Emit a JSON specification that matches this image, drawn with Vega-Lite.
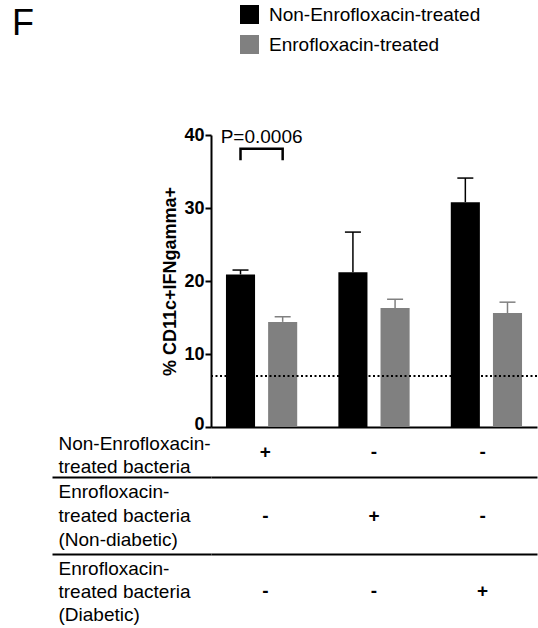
{
  "$schema": "https://vega.github.io/schema/vega-lite/v6.json",
  "padding": {"left": 12, "top": 5, "right": 0, "bottom": 0},
  "background": "white",
  "bounds": "flush",
  "spacing": 0,
  "title": {"text": "F", "anchor": "start", "frame": "group", "fontSize": 36, "fontWeight": "normal", "font": "Liberation Sans", "color": "black", "dx": -199, "dy": 42},
  "config": {
    "font": "Liberation Sans",
    "view": {"stroke": null},
    "tick": {"opacity": 1},
    "axis": {"labelColor": "black", "titleColor": "black", "domainColor": "black", "tickColor": "black", "labelFont": "Liberation Sans", "titleFont": "Liberation Sans"}
  },
  "vconcat": [
    {
      "width": 326,
      "height": 292,
      "data": {"values": [
        {"group": "G1", "treat": "Non-Enrofloxacin-treated", "mean": 20.9, "upper": 21.5},
        {"group": "G1", "treat": "Enrofloxacin-treated", "mean": 14.4, "upper": 15.1},
        {"group": "G2", "treat": "Non-Enrofloxacin-treated", "mean": 21.2, "upper": 26.7},
        {"group": "G2", "treat": "Enrofloxacin-treated", "mean": 16.3, "upper": 17.5},
        {"group": "G3", "treat": "Non-Enrofloxacin-treated", "mean": 30.8, "upper": 34.1},
        {"group": "G3", "treat": "Enrofloxacin-treated", "mean": 15.6, "upper": 17.1}
      ]},
      "encoding": {
        "x": {"field": "group", "type": "nominal", "scale": {"paddingInner": 0.1, "paddingOuter": 0}, "axis": {"title": null, "labels": false, "ticks": false, "domain": true, "domainWidth": 2}},
        "xOffset": {"field": "treat", "type": "nominal", "sort": ["Non-Enrofloxacin-treated", "Enrofloxacin-treated"], "scale": {"paddingInner": 0.31, "paddingOuter": 0.355}}
      },
      "layer": [
        {
          "mark": {"type": "bar"},
          "encoding": {
            "y": {"field": "mean", "type": "quantitative", "scale": {"domain": [0, 40]}, "axis": {"title": "% CD11c+IFNgamma+", "values": [0, 10, 20, 30, 40], "grid": false, "domainWidth": 2, "tickWidth": 2, "tickSize": 6, "labelFontSize": 18, "labelFontWeight": "bold", "labelPadding": 1, "labelOffset": {"condition": {"test": "datum.value === 0", "value": -3}, "value": 0}, "titleFontSize": 18, "titleFontWeight": "bold", "titlePadding": 4, "labelFlush": false}},
            "color": {"field": "treat", "type": "nominal", "sort": ["Non-Enrofloxacin-treated", "Enrofloxacin-treated"], "scale": {"domain": ["Non-Enrofloxacin-treated", "Enrofloxacin-treated"], "range": ["#000000", "#808080"]}, "legend": {"orient": "none", "legendX": 29, "legendY": -130, "title": null, "symbolType": "square", "symbolSize": 361, "symbolStrokeWidth": 0, "symbolOpacity": 1, "labelFontSize": 19, "labelColor": "black", "labelLimit": 400, "rowPadding": 10, "labelOffset": 10}}
          }
        },
        {
          "mark": {"type": "rule", "strokeWidth": 1.5},
          "encoding": {
            "y": {"field": "mean", "type": "quantitative"},
            "y2": {"field": "upper"},
            "color": {"field": "treat", "type": "nominal"}
          }
        },
        {
          "mark": {"type": "tick", "size": 16, "thickness": 1.5, "opacity": 1},
          "encoding": {
            "y": {"field": "upper", "type": "quantitative"},
            "color": {"field": "treat", "type": "nominal"}
          }
        },
        {
          "data": {"values": [{"baseline": 7}]},
          "mark": {"type": "rule", "strokeDash": [2, 2.5], "strokeWidth": 2, "color": "black"},
          "encoding": {"y": {"field": "baseline", "type": "quantitative"}, "x": null, "xOffset": null}
        },
        {
          "data": {"values": [
            {"group": "G1", "treat": "Non-Enrofloxacin-treated", "by": 36.7, "o": 1},
            {"group": "G1", "treat": "Non-Enrofloxacin-treated", "by": 38.1, "o": 2},
            {"group": "G1", "treat": "Enrofloxacin-treated", "by": 38.1, "o": 3},
            {"group": "G1", "treat": "Enrofloxacin-treated", "by": 36.7, "o": 4}
          ]},
          "mark": {"type": "line", "color": "black", "strokeWidth": 2.5, "strokeCap": "square"},
          "encoding": {"y": {"field": "by", "type": "quantitative"}, "order": {"field": "o"}}
        },
        {
          "data": {"values": [{"group": "G1", "label": "P=0.0006", "ty": 38.9}]},
          "mark": {"type": "text", "fontSize": 19, "align": "center", "baseline": "alphabetic", "color": "black"},
          "encoding": {"y": {"field": "ty", "type": "quantitative"}, "text": {"field": "label"}, "xOffset": null}
        }
      ]
    },
    {
      "width": 326,
      "height": 50,
      "data": {"values": [
        {"row": "Non-Enrofloxacin-|treated bacteria", "group": "G1", "sign": "+"},
        {"row": "Non-Enrofloxacin-|treated bacteria", "group": "G2", "sign": "-"},
        {"row": "Non-Enrofloxacin-|treated bacteria", "group": "G3", "sign": "-"}
      ]},
      "mark": {"type": "text", "fontSize": 19, "fontWeight": "bold", "color": "black"},
      "encoding": {
        "x": {"field": "group", "type": "nominal", "scale": {"paddingInner": 0.1, "paddingOuter": 0}, "axis": null},
        "y": {"field": "row", "type": "nominal", "axis": {"title": null, "labelExpr": "split(datum.label, '|')", "labelAlign": "left", "labelPadding": -6, "labelOffset": -9, "tickSize": 159, "tickOpacity": 0, "domain": false, "labelFontSize": 19, "labelFontWeight": "normal", "labelLineHeight": 23, "labelLimit": 300}},
        "text": {"field": "sign"}
      }
    },
    {
      "width": 326,
      "height": 77,
      "data": {"values": [
        {"row": "Enrofloxacin-|treated bacteria|(Non-diabetic)", "group": "G1", "sign": "-"},
        {"row": "Enrofloxacin-|treated bacteria|(Non-diabetic)", "group": "G2", "sign": "+"},
        {"row": "Enrofloxacin-|treated bacteria|(Non-diabetic)", "group": "G3", "sign": "-"}
      ]},
      "mark": {"type": "text", "fontSize": 19, "fontWeight": "bold", "color": "black"},
      "encoding": {
        "x": {"field": "group", "type": "nominal", "scale": {"paddingInner": 0.1, "paddingOuter": 0}, "axis": null},
        "y": {"field": "row", "type": "nominal", "axis": {"title": null, "labelExpr": "split(datum.label, '|')", "labelAlign": "left", "labelPadding": -6, "labelOffset": -24, "tickSize": 159, "tickWidth": 2, "tickBand": "extent", "grid": true, "gridColor": "black", "gridWidth": 2, "gridOpacity": 1, "domain": false, "labelFontSize": 19, "labelFontWeight": "normal", "labelLineHeight": 24, "labelLimit": 300}},
        "text": {"field": "sign"}
      }
    },
    {
      "width": 326,
      "height": 74,
      "data": {"values": [
        {"row": "Enrofloxacin-|treated bacteria|(Diabetic)", "group": "G1", "sign": "-"},
        {"row": "Enrofloxacin-|treated bacteria|(Diabetic)", "group": "G2", "sign": "-"},
        {"row": "Enrofloxacin-|treated bacteria|(Diabetic)", "group": "G3", "sign": "+"}
      ]},
      "mark": {"type": "text", "fontSize": 19, "fontWeight": "bold", "color": "black"},
      "encoding": {
        "x": {"field": "group", "type": "nominal", "scale": {"paddingInner": 0.1, "paddingOuter": 0}, "axis": null},
        "y": {"field": "row", "type": "nominal", "axis": {"title": null, "labelExpr": "split(datum.label, '|')", "labelAlign": "left", "labelPadding": -6, "labelOffset": -23, "tickSize": 159, "tickOpacity": 0, "domain": false, "labelFontSize": 19, "labelFontWeight": "normal", "labelLineHeight": 23, "labelLimit": 300}},
        "text": {"field": "sign"}
      }
    }
  ]
}
